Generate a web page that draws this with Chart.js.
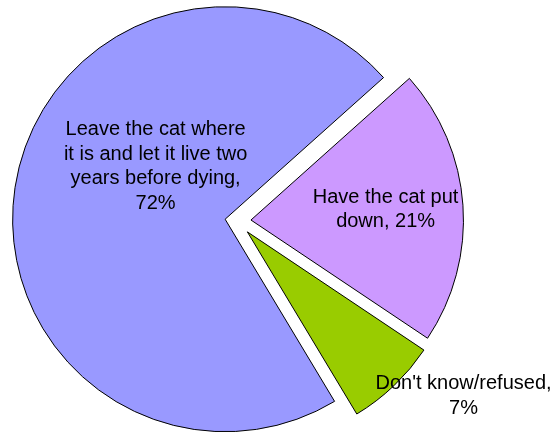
<!DOCTYPE html>
<html>
<head>
<meta charset="utf-8">
<script src="https://cdn.jsdelivr.net/npm/chart.js@4"></script>
<style>
  body { margin: 0; background: #fff; }
  #wrap { width: 551px; height: 433px; position: relative; }
</style>
</head>
<body>
<div id="wrap"><canvas id="myChart"></canvas></div>
<script>
// data
var categories = ['Leave the cat where it is and let it live two years before dying', 'Have the cat put down', "Don't know/refused"];
var values = [72, 21, 7];
var colors = ['#9999FF', '#CC99FF', '#99CC00'];

// how far each slice is pulled out, and where its label sits (fraction of angle, fraction of radius)
var explode = [12, 14, 15];
var labelAngle = [0.612, 0.487, 0.13];
var labelRadius = [0.413, 0.636, 1.275];

function wrapText(ctx, text, maxWidth) {
  var words = text.split(' ');
  var lines = [];
  var line = '';
  words.forEach(function (w) {
    var test = line ? line + ' ' + w : w;
    if (line && ctx.measureText(test).width > maxWidth) {
      lines.push(line);
      line = w;
    } else {
      line = test;
    }
  });
  if (line) lines.push(line);
  return lines;
}

var explodePlugin = {
  id: 'explode',
  beforeDatasetDraw: function (chart, args) {
    var ctx = chart.ctx;
    args.meta.data.forEach(function (arc, i) {
      var mid = (arc.startAngle + arc.endAngle) / 2;
      ctx.save();
      ctx.translate(Math.cos(mid) * explode[i], Math.sin(mid) * explode[i]);
      arc.draw(ctx, chart.chartArea);
      ctx.restore();
    });
    return false;
  },
  afterDatasetsDraw: function (chart) {
    var ctx = chart.ctx;
    var meta = chart.getDatasetMeta(0);
    ctx.save();
    ctx.font = '20px "Liberation Sans", Arial, sans-serif';
    ctx.fillStyle = '#000';
    ctx.textAlign = 'center';
    ctx.textBaseline = 'middle';
    meta.data.forEach(function (arc, i) {
      var mid = (arc.startAngle + arc.endAngle) / 2;
      var cx = arc.x + Math.cos(mid) * explode[i];
      var cy = arc.y + Math.sin(mid) * explode[i];
      var a = arc.startAngle + labelAngle[i] * (arc.endAngle - arc.startAngle);
      var r = labelRadius[i] * arc.outerRadius;
      var x = cx + Math.cos(a) * r;
      var y = cy + Math.sin(a) * r + 1;
      var lines = wrapText(ctx, categories[i] + ', ' + values[i] + '%', 190);
      var lh = 24.5;
      var y0 = y - (lines.length - 1) * lh / 2;
      lines.forEach(function (l, k) {
        ctx.fillText(l, x, y0 + k * lh);
      });
    });
    ctx.restore();
  }
};

var ctx = document.getElementById('myChart').getContext('2d');
var myChart = new Chart(ctx, {
  type: 'pie',
  data: {
    labels: categories,
    datasets: [{
      data: values,
      backgroundColor: colors,
      borderColor: '#000000',
      borderWidth: 1
    }]
  },
  options: {
    responsive: true,
    maintainAspectRatio: false,
    animation: false,
    rotation: 149,
    radius: 212.5,
    layout: { padding: { left: 0, right: 77, top: 9, bottom: 0 } },
    plugins: {
      legend: { display: false },
      tooltip: { enabled: false }
    }
  },
  plugins: [explodePlugin]
});
</script>
</body>
</html>
